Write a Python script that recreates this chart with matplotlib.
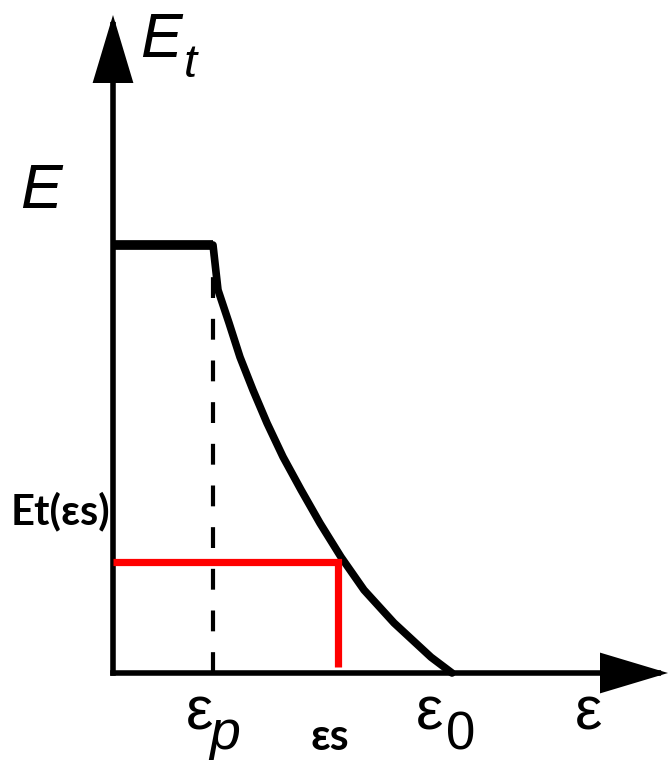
import matplotlib
matplotlib.use("Agg")
import matplotlib.pyplot as plt

# ---------------- data ----------------
E_value = 1.0          # plateau modulus E
eps_p = 1.0            # end of plateau
eps_0 = 3.39           # strain where Et reaches zero
eps_s = 2.25           # chosen strain
Et_s = 0.26            # Et(eps_s)

eps_curve = [1.00, 1.05, 1.16, 1.27, 1.40, 1.54, 1.70, 1.88, 2.07, 2.28,
             2.51, 2.81, 3.18, 3.39]
Et_curve = [1.000, 0.895, 0.818, 0.738, 0.661, 0.584, 0.505, 0.428, 0.350,
            0.271, 0.194, 0.117, 0.037, 0.0]

plateau_eps = [0.0, eps_p]
plateau_E = [E_value, E_value]

# ---------------- figure ----------------
W, H = 668, 760
fig = plt.figure(figsize=(W / 100, H / 100), dpi=100)
ax = fig.add_axes([0, 0, 1, 1])
ax.set_xlim(-1.13, 5.55)
ax.set_ylim(-87 / 428, 673 / 428)
ax.axis("off")

# axes with arrows
y_tip = 658 / 428
x_tip = 5.55
arrow = dict(arrowstyle="-|>,head_length=4.0,head_width=1.2", lw=4,
             color="black", shrinkA=0, shrinkB=0, mutation_scale=10,
             joinstyle="miter", capstyle="projecting")
ax.annotate("", xy=(0, y_tip), xytext=(0, 0), arrowprops=arrow, zorder=3)
ax.annotate("", xy=(x_tip, 0), xytext=(0, 0), arrowprops=arrow, zorder=3)

# dashed line at eps_p
ax.plot([eps_p, eps_p], [0, E_value], color="black", lw=3,
        dashes=(5, 5), zorder=2)

# plateau and decreasing curve
ax.plot(plateau_eps, plateau_E, color="black", lw=7, solid_capstyle="butt",
        zorder=4)
ax.plot(eps_curve, Et_curve, color="black", lw=5.5, solid_capstyle="round",
        solid_joinstyle="round", zorder=4)

# red construction lines
RED_GAP = 0.014
ax.plot([0, eps_s, eps_s], [Et_s, Et_s, RED_GAP], color="#ff0000", lw=5.2,
        solid_joinstyle="miter", solid_capstyle="butt", zorder=5)


def ptext(px, py, s, **kw):
    fig.text(px / W, 1 - py / H, s, va="baseline", ha="left", **kw)


lib = ["Liberation Sans", "DejaVu Sans"]
bold = ["Lato", "Open Sans", "DejaVu Sans"]

# axis labels (scanned style)
ptext(140, 57, "E", family=lib, style="italic", fontsize=45)
ptext(184, 77, "t", family=lib, style="italic", fontsize=34)
ptext(20, 208, "E", family=lib, style="italic", fontsize=45)

ptext(186, 730, "ε", family=lib, fontsize=44)
ptext(209, 749, "p", family=lib, style="italic", fontsize=40)
ptext(416, 730, "ε", family=lib, fontsize=44)
ptext(446, 750, "0", family=lib, fontsize=38)
ptext(575, 730, "ε", family=lib, fontsize=44)

# bold annotations
ptext(11, 524, "Et(εs)", family=bold, fontweight="bold", fontsize=30)
ptext(310, 750, "εs", family=bold, fontweight="bold", fontsize=31)

fig.savefig("out.png", dpi=100)
